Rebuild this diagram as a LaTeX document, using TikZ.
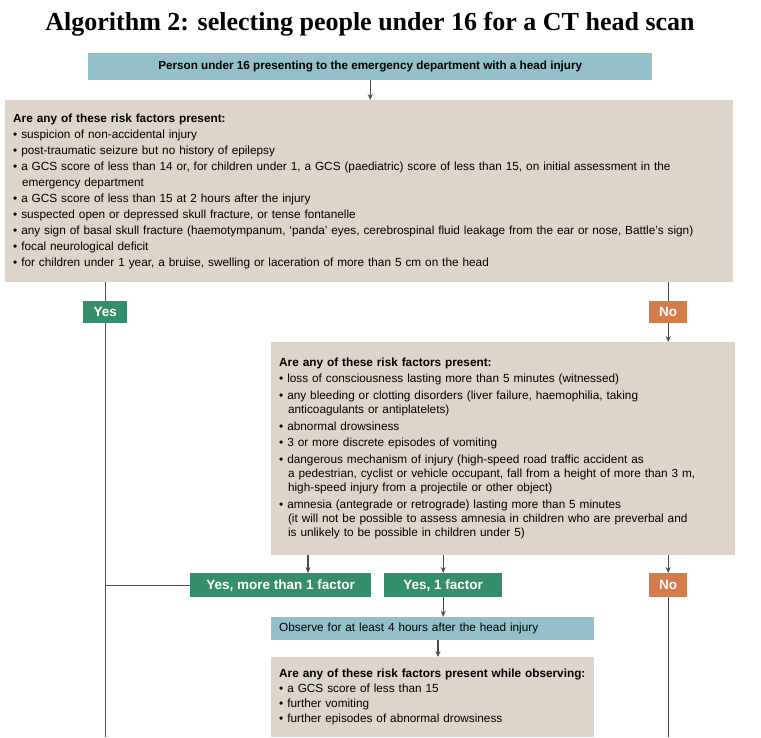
\documentclass[tikz,border=0pt]{standalone}
\usepackage{fontspec}
\setmainfont{Liberation Sans}
\newfontfamily\titlefont{Liberation Serif}
\usetikzlibrary{arrows.meta,positioning}
\definecolor{stepblue}{HTML}{93C0CB}
\definecolor{riskbeige}{HTML}{DDD5CA}
\definecolor{yesgreen}{HTML}{358E6B}
\definecolor{noorange}{HTML}{D57C4C}
\tikzset{
  action/.style={fill=stepblue, anchor=north west, inner sep=0pt, font=\fontsize{11.8}{14}\selectfont},
  risk/.style={fill=riskbeige, anchor=north west, inner xsep=8pt, inner ysep=0pt, align=left, font=\fontsize{11.8}{16}\selectfont},
  yes/.style={fill=yesgreen, text=white, anchor=north west, inner sep=0pt, font=\fontsize{13.5}{14}\selectfont\bfseries},
  no/.style={fill=noorange, text=white, anchor=north west, inner sep=0pt, font=\fontsize{13.5}{14}\selectfont\bfseries},
  link/.style={draw=black!70, line width=1.2pt},
  arr/.style={link, -{Stealth[length=6pt,width=5pt]}}
}
\newcommand{\cont}{\hspace*{0.75em}}
\begin{document}
\begin{tikzpicture}[x=1pt,y=1pt]
\useasboundingbox (0,0) rectangle (761,-737);
% title
\node[font=\titlefont\fontsize{26}{28}\selectfont\bfseries] (title) at (370,-24) {Algorithm 2: selecting people under 16 for a CT head scan};
% first step
\node[action, minimum width=564, minimum height=27, font=\fontsize{11.7}{14}\selectfont\bfseries] (person) at (88,-53) {Person under 16 presenting to the emergency department with a head injury};
\node[risk, text width=712, minimum height=182] (riskA) at (5,-100) {\textbf{Are any of these risk factors present:}\\
\textbullet\ suspicion of non-accidental injury\\
\textbullet\ post-traumatic seizure but no history of epilepsy\\
\textbullet\ a GCS score of less than 14 or, for children under 1, a GCS (paediatric) score of less than 15, on initial assessment in the\\
\cont emergency department\\
\textbullet\ a GCS score of less than 15 at 2 hours after the injury\\
\textbullet\ suspected open or depressed skull fracture, or tense fontanelle\\
\textbullet\ any sign of basal skull fracture (haemotympanum, `panda' eyes, cerebrospinal fluid leakage from the ear or nose, Battle's sign)\\
\textbullet\ focal neurological deficit\\
\textbullet\ for children under 1 year, a bruise, swelling or laceration of more than 5 cm on the head};
\node[yes, minimum width=44, minimum height=22] (yesA) at (83,-301) {Yes};
\node[no, minimum width=38, minimum height=22] (noA) at (649,-301) {No};
% second set of risk factors
\node[risk, text width=448, minimum height=213] (riskB) at (271,-342) {\textbf{Are any of these risk factors present:}\\
\textbullet\ loss of consciousness lasting more than 5 minutes (witnessed)\\[1pt]
\textbullet\ any bleeding or clotting disorders (liver failure, haemophilia, taking\\[-2pt]
\cont anticoagulants or antiplatelets)\\[1pt]
\textbullet\ abnormal drowsiness\\
\textbullet\ 3 or more discrete episodes of vomiting\\[1pt]
\textbullet\ dangerous mechanism of injury (high-speed road traffic accident as\\[-2pt]
\cont a pedestrian, cyclist or vehicle occupant, fall from a height of more than 3 m,\\[-2pt]
\cont high-speed injury from a projectile or other object)\\[1pt]
\textbullet\ amnesia (antegrade or retrograde) lasting more than 5 minutes\\[-2pt]
\cont(it will not be possible to assess amnesia in children who are preverbal and\\[-2pt]
\cont is unlikely to be possible in children under 5)};
\node[yes, minimum width=181, minimum height=24] (yesMore) at (190,-573) {Yes, more than 1 factor};
\node[yes, minimum width=118, minimum height=24] (yesOne) at (384,-573) {Yes, 1 factor};
\node[no, minimum width=38, minimum height=24] (noB) at (649,-573) {No};
\node[action, minimum width=323, minimum height=23, anchor=west, text width=307, align=left] (observe) at (271,-628.5) {Observe for at least 4 hours after the head injury};
\node[risk, text width=307, minimum height=80] (riskC) at (271,-657) {\textbf{Are any of these risk factors present while observing:}\\[-1pt]
\textbullet\ a GCS score of less than 15\\[-1pt]
\textbullet\ further vomiting\\[-1pt]
\textbullet\ further episodes of abnormal drowsiness};
% ends of the long lines
\coordinate (yesEnd) at (yesA.south |- 0,-737);
\coordinate (noEnd) at (noB.south |- 0,-737);
\coordinate (branch) at (yesA.south |- yesMore.west);
% connectors
\draw[arr] (person.south) -- (person.south |- riskA.north);
\draw[link] (yesA.north |- riskA.south) -- (yesA.north);
\draw[link] (noA.north |- riskA.south) -- (noA.north);
\draw[arr] (noA.south) -- (noA.south |- riskB.north);
\draw[link] (yesA.south) -- (yesEnd);
\draw[link] (branch) -- (yesMore.west);
\draw[arr] (308,-555) -- (308,-573);
\draw[arr] (yesOne.north |- riskB.south) -- (yesOne.north);
\draw[arr] (noB.north |- riskB.south) -- (noB.north);
\draw[link] (noB.south) -- (noEnd);
\draw[arr] (yesOne.south) -- (yesOne.south |- observe.north);
\draw[arr] (438,-640) -- (438,-657);
\end{tikzpicture}
\end{document}
